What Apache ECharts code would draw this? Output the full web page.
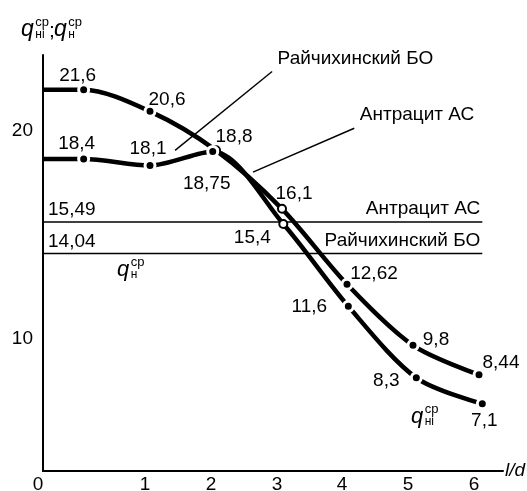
<!DOCTYPE html>
<html>
<head>
<meta charset="utf-8">
<script src="https://cdn.jsdelivr.net/npm/echarts@6/dist/echarts.min.js"></script>
<style>
  html, body { margin: 0; padding: 0; background: #fff; }
  #chart { width: 527px; height: 491px; }
</style>
</head>
<body>
<div id="chart"></div>
<script>
// axis ticks
const ldTicks = [0, 1, 2, 3, 4, 5, 6]
const qTicks = [10, 20]

// curves (l/d, q)
const upperLd = [0, 0.38, 1, 2, 3, 4, 5, 6]
const upperQ = [21.6, 21.6, 20.6, 18.8, 16.1, 12.62, 9.8, 8.44]
const lowerLd = [0, 0.38, 1, 1.95, 3.02, 4.02, 5.05, 6.05]
const lowerQ = [18.4, 18.4, 18.1, 18.75, 15.4, 11.6, 8.3, 7.1]

// average levels
const levelNames = ['Антрацит АС', 'Райчихинский БО']
const levelQ = [15.49, 14.04]
const levelEnd = 6.05

// leader lines to the curves
const leaderNames = ['Райчихинский БО', 'Антрацит АС']
const leaderFrom = [[1.38, 18.8], [2.56, 17.79]]
const leaderTo = [[2.85, 22.44], [4.11, 19.82]]

// the drawn l/d scale is uneven: position (px from the q axis) of each tick
const ldPos = [0, 107, 173, 239, 304, 370, 436]
const toPos = ld => {
  let i = 0
  while (i < ldTicks.length - 2 && ld > ldTicks[i + 1]) i++
  const k = (ldPos[i + 1] - ldPos[i]) / (ldTicks[i + 1] - ldTicks[i])
  return ldPos[i] + (ld - ldTicks[i]) * k
}
const fmt = v => String(v).replace('.', ',')

const FONT = '"Liberation Sans", Arial, sans-serif'
const text = { color: '#000', fontFamily: FONT, fontSize: 19 }

// per-point label offsets from the dot centre
const upperOffset = [null, [-6, -14], [17, -12], [18, -14], [12, -15], [27, -10], [23, -6], [22, -12]]
const lowerOffset = [null, [-7, -15], [-2, -17], [-6, 32], [-31, 14], [-39, 0], [-30, 3], [2, 17]]
const upperHollow = [3, 4]
const lowerHollow = [4]

const curveSeries = (ld, q, offsets, hollow) => ({
  type: 'line',
  smooth: 0.3,
  symbol: 'circle',
  symbolSize: 10,
  lineStyle: { color: '#000', width: 4.5 },
  itemStyle: { color: '#000', borderColor: '#fff', borderWidth: 3 },
  z: 3,
  data: ld.map((x, i) => {
    const item = { value: [toPos(x), q[i]] }
    if (i === 0) {
      item.symbol = 'none'
      return item
    }
    if (hollow.includes(i)) {
      item.symbolSize = 8
      item.itemStyle = { color: '#fff', borderColor: '#000', borderWidth: 2 }
    }
    item.label = {
      show: true, position: 'inside', offset: offsets[i],
      formatter: fmt(q[i]), ...text
    }
    return item
  })
})

const levelSeries = levelQ.map((q, i) => ({
  type: 'line',
  symbol: 'circle',
  symbolSize: 1,
  itemStyle: { color: 'rgba(0,0,0,0)' },
  lineStyle: { color: '#000', width: 1.5 },
  z: 2,
  data: [
    { value: [0, q], label: { show: true, position: 'inside', align: 'left', offset: [5, -12], formatter: fmt(q), ...text } },
    { value: [toPos(levelEnd), q], label: { show: true, position: 'inside', align: 'right', offset: [-2, -13], formatter: levelNames[i], ...text } }
  ]
}))

const leaderSeries = leaderNames.map((name, i) => ({
  type: 'line',
  symbol: 'circle',
  symbolSize: 1,
  itemStyle: { color: 'rgba(0,0,0,0)' },
  lineStyle: { color: '#000', width: 1.4 },
  z: 2,
  data: [
    { value: [toPos(leaderFrom[i][0]), leaderFrom[i][1]] },
    { value: [toPos(leaderTo[i][0]), leaderTo[i][1]], label: { show: true, position: 'right', distance: 5, offset: [0, -13], formatter: name, ...text } }
  ]
}))

// q with stacked superscript/subscript
const qMark = (x, y, sub, size) => ({
  type: 'group',
  children: [
    { type: 'text', x: x, y: y, style: { text: 'q', font: `italic ${size}px ${FONT}`, fill: '#000', verticalAlign: 'middle' } },
    { type: 'text', x: x + size * 0.62, y: y - 8, style: { text: 'ср', font: `13px ${FONT}`, fill: '#000', verticalAlign: 'middle' } },
    { type: 'text', x: x + size * 0.62, y: y + 5, style: { text: sub, font: `12px ${FONT}`, fill: '#000', verticalAlign: 'middle' } }
  ]
})

const chart = echarts.init(document.getElementById('chart'))
chart.setOption({
  animation: false,
  backgroundColor: '#fff',
  grid: { left: 43, right: 24, top: 55, bottom: 20, outerBoundsMode: 'none' },
  xAxis: {
    type: 'value',
    min: 0,
    max: 460,
    name: 'l/d',
    nameLocation: 'end',
    nameGap: 2,
    nameTextStyle: { color: '#000', fontFamily: FONT, fontSize: 19, fontStyle: 'italic' },
    axisLine: { lineStyle: { color: '#000', width: 2 } },
    axisTick: { show: false },
    splitLine: { show: false },
    axisLabel: {
      customValues: ldPos,
      formatter: v => String(ldTicks[ldPos.indexOf(v)]),
      margin: 4,
      padding: [0, 10, 0, 0],
      ...text
    }
  },
  yAxis: {
    type: 'value',
    min: 4,
    max: 23.2,
    axisLine: { show: true, lineStyle: { color: '#000', width: 2 } },
    axisTick: { show: false },
    splitLine: { show: false },
    axisLabel: {
      customValues: qTicks,
      margin: 10,
      formatter: v => (v === 20 ? '{hi|' + v + '}' : '{lo|' + v + '}'),
      rich: { hi: { padding: [12, 0, 0, 0] }, lo: { padding: [0, 0, 4, 0] } },
      ...text
    }
  },
  graphic: [
    qMark(21, 30, 'ні', 23),
    { type: 'text', x: 49, y: 31, style: { text: ';', font: `21px ${FONT}`, fill: '#000', verticalAlign: 'middle' } },
    qMark(54, 30, 'н', 23),
    qMark(117, 270, 'н', 22),
    qMark(411, 417, 'ні', 22)
  ],
  series: [
    curveSeries(upperLd, upperQ, upperOffset, upperHollow),
    curveSeries(lowerLd, lowerQ, lowerOffset, lowerHollow),
    ...levelSeries,
    ...leaderSeries
  ]
})
</script>
</body>
</html>
